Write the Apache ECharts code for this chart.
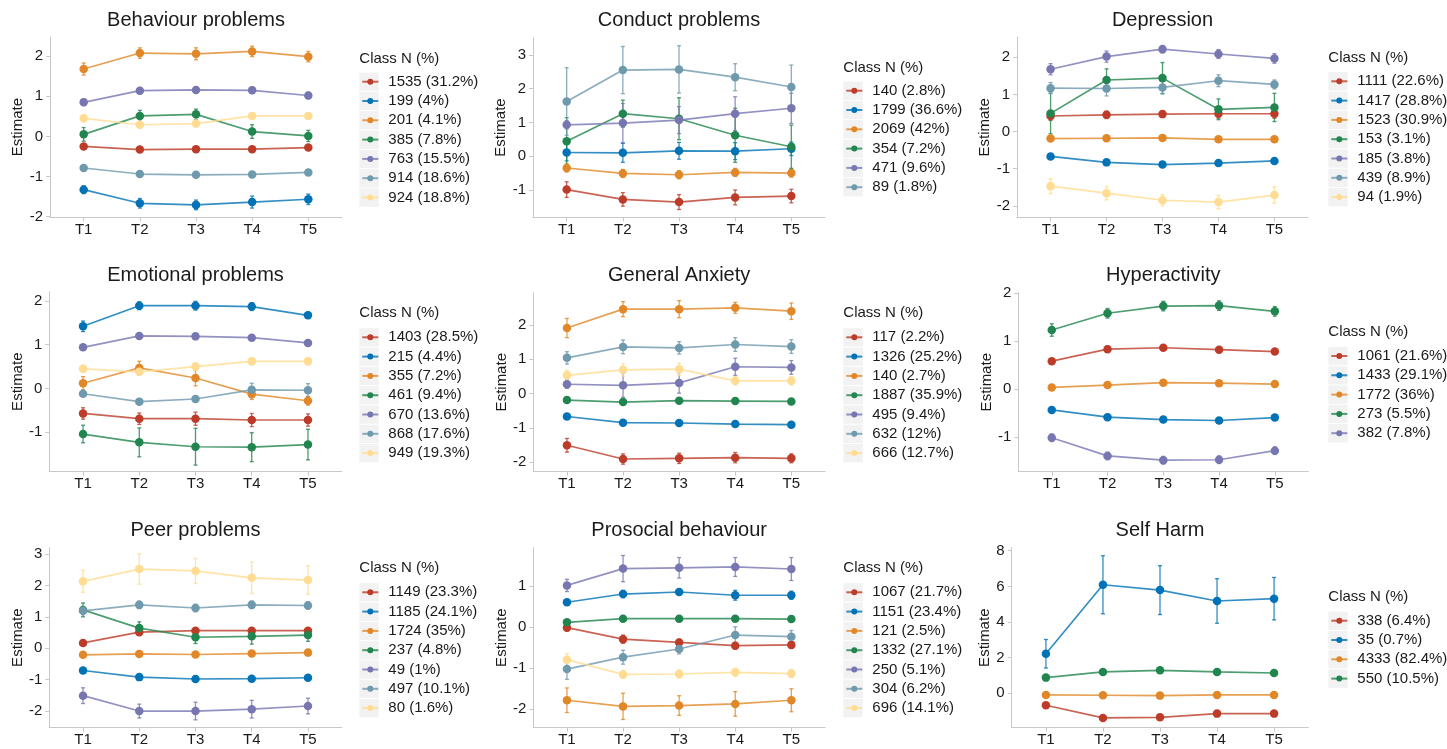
<!DOCTYPE html>
<html>
<head>
<meta charset="utf-8">
<script src="https://cdn.jsdelivr.net/npm/echarts@6/dist/echarts.min.js"></script>
<style>
html,body{margin:0;padding:0;background:#ffffff;}
#chart{width:1447px;height:749px;}
</style>
</head>
<body>
<div id="chart"></div>
<script>
// ---------------- DATA ----------------
const timeLabels = ['T1', 'T2', 'T3', 'T4', 'T5'];
const timePos = [1, 2, 3, 4, 5];
const palette = ['#BC3C29', '#0072B5', '#E18727', '#20854E', '#7876B1', '#6F99AD', '#FFDC91'];
const legendTitle = 'Class N (%)';
const yName = 'Estimate';

// Behaviour problems
const behaviourTitle = 'Behaviour problems';
const behaviourClasses = ['1535 (31.2%)', '199 (4%)', '201 (4.1%)', '385 (7.8%)', '763 (15.5%)', '914 (18.6%)', '924 (18.8%)'];
const behaviourEst = [
  [-0.25, -0.33, -0.32, -0.32, -0.28],
  [-1.33, -1.67, -1.71, -1.64, -1.57],
  [1.68, 2.08, 2.06, 2.12, 1.99],
  [0.05, 0.51, 0.55, 0.12, 0.01],
  [0.85, 1.14, 1.16, 1.15, 1.02],
  [-0.79, -0.94, -0.96, -0.95, -0.90],
  [0.45, 0.29, 0.32, 0.51, 0.51]
];
const behaviourErr = [
  [0.04, 0.04, 0.04, 0.04, 0.04],
  [0.10, 0.12, 0.12, 0.15, 0.13],
  [0.15, 0.13, 0.15, 0.13, 0.13],
  [0.17, 0.14, 0.13, 0.17, 0.14],
  [0.08, 0.08, 0.08, 0.08, 0.08],
  [0.04, 0.04, 0.04, 0.04, 0.04],
  [0.08, 0.08, 0.08, 0.08, 0.08]
];
const behaviourTicks = [-2, -1, 0, 1, 2];
const behaviourRange = [-2.02, 2.48];

// Conduct problems
const conductTitle = 'Conduct problems';
const conductClasses = ['140 (2.8%)', '1799 (36.6%)', '2069 (42%)', '354 (7.2%)', '471 (9.6%)', '89 (1.8%)'];
const conductEst = [
  [-0.99, -1.28, -1.36, -1.22, -1.18],
  [0.11, 0.10, 0.16, 0.15, 0.22],
  [-0.35, -0.51, -0.55, -0.48, -0.50],
  [0.44, 1.26, 1.11, 0.62, 0.28],
  [0.93, 0.98, 1.07, 1.26, 1.42],
  [1.62, 2.55, 2.57, 2.34, 2.05]
];
const conductErr = [
  [0.23, 0.20, 0.22, 0.22, 0.20],
  [0.25, 0.28, 0.25, 0.25, 0.20],
  [0.12, 0.12, 0.12, 0.12, 0.12],
  [0.70, 0.40, 0.62, 0.80, 0.64],
  [0.12, 0.58, 0.40, 0.50, 0.45],
  [1.00, 0.70, 0.70, 0.40, 0.65]
];
const conductTicks = [-1, 0, 1, 2, 3];
const conductRange = [-1.81, 3.51];

// Depression
const depressionTitle = 'Depression';
const depressionClasses = ['1111 (22.6%)', '1417 (28.8%)', '1523 (30.9%)', '153 (3.1%)', '185 (3.8%)', '439 (8.9%)', '94 (1.9%)'];
const depressionEst = [
  [0.42, 0.45, 0.47, 0.48, 0.48],
  [-0.67, -0.83, -0.89, -0.85, -0.79],
  [-0.19, -0.18, -0.17, -0.21, -0.21],
  [0.49, 1.39, 1.44, 0.60, 0.65],
  [1.68, 2.02, 2.22, 2.09, 1.97],
  [1.17, 1.16, 1.19, 1.37, 1.27],
  [-1.47, -1.66, -1.85, -1.90, -1.71]
];
const depressionErr = [
  [0.12, 0.10, 0.08, 0.12, 0.12],
  [0.04, 0.04, 0.04, 0.04, 0.04],
  [0.04, 0.04, 0.04, 0.04, 0.04],
  [0.55, 0.30, 0.42, 0.28, 0.38],
  [0.15, 0.15, 0.10, 0.12, 0.13],
  [0.15, 0.20, 0.17, 0.16, 0.12],
  [0.20, 0.18, 0.15, 0.18, 0.22]
];
const depressionTicks = [-2, -1, 0, 1, 2];
const depressionRange = [-2.31, 2.54];

// Emotional problems
const emotionalTitle = 'Emotional problems';
const emotionalClasses = ['1403 (28.5%)', '215 (4.4%)', '355 (7.2%)', '461 (9.4%)', '670 (13.6%)', '868 (17.6%)', '949 (19.3%)'];
const emotionalEst = [
  [-0.57, -0.69, -0.69, -0.72, -0.72],
  [1.42, 1.89, 1.89, 1.87, 1.67],
  [0.12, 0.47, 0.24, -0.13, -0.28],
  [-1.04, -1.23, -1.33, -1.34, -1.28],
  [0.94, 1.20, 1.19, 1.16, 1.04],
  [-0.12, -0.30, -0.24, -0.03, -0.04],
  [0.45, 0.38, 0.50, 0.62, 0.62]
];
const emotionalErr = [
  [0.13, 0.13, 0.15, 0.15, 0.14],
  [0.12, 0.09, 0.10, 0.09, 0.07],
  [0.15, 0.15, 0.18, 0.12, 0.10],
  [0.20, 0.33, 0.42, 0.33, 0.35],
  [0.06, 0.06, 0.06, 0.06, 0.06],
  [0.06, 0.06, 0.06, 0.15, 0.15],
  [0.08, 0.08, 0.08, 0.08, 0.08]
];
const emotionalTicks = [-1, 0, 1, 2];
const emotionalRange = [-1.90, 2.21];

// General Anxiety
const anxietyTitle = 'General Anxiety';
const anxietyClasses = ['117 (2.2%)', '1326 (25.2%)', '140 (2.7%)', '1887 (35.9%)', '495 (9.4%)', '632 (12%)', '666 (12.7%)'];
const anxietyEst = [
  [-1.51, -1.91, -1.89, -1.87, -1.89],
  [-0.67, -0.85, -0.86, -0.89, -0.91],
  [1.91, 2.46, 2.46, 2.50, 2.40],
  [-0.19, -0.25, -0.21, -0.22, -0.23],
  [0.27, 0.24, 0.31, 0.78, 0.76],
  [1.04, 1.36, 1.33, 1.43, 1.37],
  [0.53, 0.69, 0.71, 0.37, 0.37]
];
const anxietyErr = [
  [0.20, 0.15, 0.15, 0.15, 0.13],
  [0.03, 0.03, 0.03, 0.03, 0.03],
  [0.28, 0.22, 0.25, 0.16, 0.24],
  [0.03, 0.03, 0.03, 0.03, 0.03],
  [0.12, 0.35, 0.30, 0.25, 0.20],
  [0.18, 0.20, 0.18, 0.20, 0.20],
  [0.15, 0.18, 0.18, 0.12, 0.12]
];
const anxietyTicks = [-2, -1, 0, 1, 2];
const anxietyRange = [-2.28, 2.94];

// Hyperactivity
const hyperTitle = 'Hyperactivity';
const hyperClasses = ['1061 (21.6%)', '1433 (29.1%)', '1772 (36%)', '273 (5.5%)', '382 (7.8%)'];
const hyperEst = [
  [0.58, 0.83, 0.86, 0.82, 0.78],
  [-0.44, -0.59, -0.64, -0.66, -0.60],
  [0.03, 0.08, 0.13, 0.12, 0.10],
  [1.23, 1.58, 1.73, 1.74, 1.62],
  [-1.02, -1.40, -1.49, -1.48, -1.29]
];
const hyperErr = [
  [0.05, 0.06, 0.05, 0.05, 0.05],
  [0.03, 0.03, 0.03, 0.03, 0.03],
  [0.03, 0.03, 0.03, 0.03, 0.03],
  [0.13, 0.10, 0.10, 0.10, 0.10],
  [0.08, 0.08, 0.08, 0.08, 0.08]
];
const hyperTicks = [-1, 0, 1, 2];
const hyperRange = [-1.73, 2.01];

// Peer problems
const peerTitle = 'Peer problems';
const peerClasses = ['1149 (23.3%)', '1185 (24.1%)', '1724 (35%)', '237 (4.8%)', '49 (1%)', '497 (10.1%)', '80 (1.6%)'];
const peerEst = [
  [0.17, 0.51, 0.56, 0.56, 0.56],
  [-0.71, -0.92, -0.98, -0.97, -0.94],
  [-0.21, -0.18, -0.20, -0.17, -0.14],
  [1.22, 0.64, 0.35, 0.38, 0.42],
  [-1.51, -2.00, -2.00, -1.94, -1.84],
  [1.19, 1.38, 1.28, 1.38, 1.36],
  [2.13, 2.52, 2.46, 2.24, 2.17]
];
const peerErr = [
  [0.06, 0.06, 0.06, 0.06, 0.06],
  [0.03, 0.03, 0.03, 0.03, 0.03],
  [0.03, 0.03, 0.03, 0.03, 0.03],
  [0.22, 0.20, 0.20, 0.25, 0.20],
  [0.25, 0.22, 0.28, 0.28, 0.25],
  [0.12, 0.12, 0.12, 0.12, 0.12],
  [0.35, 0.48, 0.40, 0.50, 0.45]
];
const peerTicks = [-2, -1, 0, 1, 2, 3];
const peerRange = [-2.53, 3.20];

// Prosocial behaviour
const prosocialTitle = 'Prosocial behaviour';
const prosocialClasses = ['1067 (21.7%)', '1151 (23.4%)', '121 (2.5%)', '1332 (27.1%)', '250 (5.1%)', '304 (6.2%)', '696 (14.1%)'];
const prosocialEst = [
  [-0.02, -0.30, -0.38, -0.46, -0.44],
  [0.60, 0.80, 0.85, 0.77, 0.77],
  [-1.79, -1.94, -1.92, -1.88, -1.79],
  [0.11, 0.20, 0.20, 0.20, 0.19],
  [1.01, 1.42, 1.44, 1.46, 1.41],
  [-1.03, -0.74, -0.54, -0.20, -0.24],
  [-0.80, -1.16, -1.15, -1.11, -1.14]
];
const prosocialErr = [
  [0.08, 0.10, 0.08, 0.08, 0.08],
  [0.07, 0.09, 0.08, 0.12, 0.10],
  [0.30, 0.32, 0.24, 0.30, 0.28],
  [0.04, 0.04, 0.04, 0.04, 0.04],
  [0.15, 0.32, 0.25, 0.23, 0.28],
  [0.25, 0.17, 0.12, 0.20, 0.15],
  [0.15, 0.10, 0.10, 0.10, 0.10]
];
const prosocialTicks = [-2, -1, 0, 1];
const prosocialRange = [-2.46, 1.93];

// Self Harm
const selfHarmTitle = 'Self Harm';
const selfHarmClasses = ['338 (6.4%)', '35 (0.7%)', '4333 (82.4%)', '550 (10.5%)'];
const selfHarmEst = [
  [-0.67, -1.38, -1.35, -1.14, -1.14],
  [2.22, 6.09, 5.79, 5.18, 5.31],
  [-0.09, -0.11, -0.13, -0.09, -0.09],
  [0.88, 1.20, 1.29, 1.20, 1.14]
];
const selfHarmErr = [
  [0.06, 0.06, 0.06, 0.06, 0.06],
  [0.80, 1.63, 1.37, 1.25, 1.19],
  [0.03, 0.03, 0.03, 0.03, 0.03],
  [0.06, 0.06, 0.06, 0.06, 0.06]
];
const selfHarmTicks = [0, 2, 4, 6, 8];
const selfHarmRange = [-1.93, 8.17];

// ---------------- ASSEMBLY ----------------
const panels = [
  {title: behaviourTitle, classes: behaviourClasses, est: behaviourEst, err: behaviourErr, ticks: behaviourTicks, range: behaviourRange},
  {title: conductTitle, classes: conductClasses, est: conductEst, err: conductErr, ticks: conductTicks, range: conductRange},
  {title: depressionTitle, classes: depressionClasses, est: depressionEst, err: depressionErr, ticks: depressionTicks, range: depressionRange},
  {title: emotionalTitle, classes: emotionalClasses, est: emotionalEst, err: emotionalErr, ticks: emotionalTicks, range: emotionalRange},
  {title: anxietyTitle, classes: anxietyClasses, est: anxietyEst, err: anxietyErr, ticks: anxietyTicks, range: anxietyRange},
  {title: hyperTitle, classes: hyperClasses, est: hyperEst, err: hyperErr, ticks: hyperTicks, range: hyperRange},
  {title: peerTitle, classes: peerClasses, est: peerEst, err: peerErr, ticks: peerTicks, range: peerRange},
  {title: prosocialTitle, classes: prosocialClasses, est: prosocialEst, err: prosocialErr, ticks: prosocialTicks, range: prosocialRange},
  {title: selfHarmTitle, classes: selfHarmClasses, est: selfHarmEst, err: selfHarmErr, ticks: selfHarmTicks, range: selfHarmRange}
];

// layout (pixels)
const layout = [
  {left: 50, right: 342, top: 37, bottom: 217.3, titleY: 20.7, nameGap: 23.5, legX: 359.3, legTitleY: 59.3, legFirstY: 81.7},
  {left: 533, right: 825, top: 37.7, bottom: 217.3, titleY: 20.7, nameGap: 20.5, legX: 843.3, legTitleY: 68.3, legFirstY: 90.7},
  {left: 1017, right: 1308, top: 37.3, bottom: 217.3, titleY: 20.7, nameGap: 22.5, legX: 1328.3, legTitleY: 58.3, legFirstY: 81.3},
  {left: 49.3, right: 341.7, top: 291.7, bottom: 471.7, titleY: 275.5, nameGap: 23, legX: 359.3, legTitleY: 313.3, legFirstY: 337.3},
  {left: 533.3, right: 825, top: 292.7, bottom: 471.7, titleY: 275.5, nameGap: 22, legX: 843.3, legTitleY: 313.3, legFirstY: 337.3},
  {left: 1018.3, right: 1308.3, top: 292.7, bottom: 471.7, titleY: 275.5, nameGap: 24, legX: 1328.3, legTitleY: 331.7, legFirstY: 356},
  {left: 49.3, right: 341.7, top: 547.7, bottom: 727.7, titleY: 530.7, nameGap: 23, legX: 359.3, legTitleY: 568.3, legFirstY: 592.3},
  {left: 533.3, right: 825, top: 547.7, bottom: 727.7, titleY: 530.7, nameGap: 22, legX: 843.3, legTitleY: 568.3, legFirstY: 592.3},
  {left: 1011.7, right: 1308.3, top: 547.7, bottom: 727.7, titleY: 530.7, nameGap: 17.5, legX: 1328.3, legTitleY: 596.7, legFirstY: 620.7}
];

const FONT = '"Liberation Sans", Arial, Helvetica, sans-serif';
const AXIS_GREY = '#C8C8C8';
const TEXT = '#1a1a1a';
const ROW = 19.3;

function makeErr(color) {
  return function (params, api) {
    const x = api.value(0);
    const a = api.coord([x, api.value(1)]);
    const b = api.coord([x, api.value(2)]);
    const cap = 2;
    const style = {stroke: color, lineWidth: 1.3, opacity: 0.8};
    return {
      type: 'group',
      children: [
        {type: 'line', shape: {x1: a[0], y1: a[1], x2: b[0], y2: b[1]}, style: style},
        {type: 'line', shape: {x1: a[0] - cap, y1: a[1], x2: a[0] + cap, y2: a[1]}, style: style},
        {type: 'line', shape: {x1: b[0] - cap, y1: b[1], x2: b[0] + cap, y2: b[1]}, style: style}
      ]
    };
  };
}

const grids = [], xAxes = [], yAxes = [], series = [], titles = [], legends = [], graphics = [];

panels.forEach(function (p, k) {
  const L = layout[k];
  grids.push({left: L.left, top: L.top, width: L.right - L.left, height: L.bottom - L.top});
  xAxes.push({
    gridIndex: k, type: 'value', min: 0.4, max: 5.6,
    axisLine: {show: true, onZero: false, lineStyle: {color: AXIS_GREY, width: 1}},
    axisTick: {show: true, customValues: timePos, length: 4, lineStyle: {color: AXIS_GREY}},
    axisLabel: {customValues: timePos, formatter: function (v) { return timeLabels[Math.round(v) - 1]; },
      margin: 5, fontSize: 15, color: TEXT, fontFamily: FONT},
    splitLine: {show: false}
  });
  yAxes.push({
    gridIndex: k, type: 'value', min: p.range[0], max: p.range[1],
    name: yName, nameLocation: 'middle', nameGap: L.nameGap,
    nameTextStyle: {fontSize: 15, color: TEXT, fontFamily: FONT},
    axisLine: {show: true, onZero: false, lineStyle: {color: AXIS_GREY, width: 1}},
    axisTick: {show: true, customValues: p.ticks, length: 4, lineStyle: {color: AXIS_GREY}},
    axisLabel: {customValues: p.ticks, margin: 7, fontSize: 15, color: TEXT, fontFamily: FONT},
    splitLine: {show: false}
  });
  p.classes.forEach(function (name, i) {
    const color = palette[i];
    series.push({
      type: 'line', name: name, xAxisIndex: k, yAxisIndex: k,
      data: p.est[i].map(function (v, j) { return [timePos[j], v]; }),
      symbol: 'circle', symbolSize: 8.5, showSymbol: true,
      itemStyle: {color: color},
      lineStyle: {color: color, width: 1.7, opacity: 0.8},
      z: 3, animation: false, emphasis: {disabled: true}
    });
  });
  p.classes.forEach(function (name, i) {
    const color = palette[i];
    series.push({
      type: 'custom', name: name, xAxisIndex: k, yAxisIndex: k,
      data: p.est[i].map(function (v, j) { return [timePos[j], v - p.err[i][j], v + p.err[i][j]]; }),
      encode: {x: 0, y: [1, 2]},
      renderItem: makeErr(color), z: 2, animation: false, silent: true
    });
  });
  titles.push({
    text: p.title, left: (L.left + L.right) / 2, top: L.titleY - 10, textAlign: 'center', padding: 0,
    textStyle: {fontSize: 20, fontWeight: 'normal', color: TEXT, fontFamily: FONT}
  });
  titles.push({
    text: legendTitle, left: L.legX, top: L.legTitleY - 7.5, padding: 0,
    textStyle: {fontSize: 15, fontWeight: 'normal', color: TEXT, fontFamily: FONT}
  });
  legends.push({
    data: p.classes, orient: 'vertical', left: L.legX + 2, top: L.legFirstY - ROW / 2,
    itemWidth: 16, itemHeight: 7.5, itemGap: 0, padding: 0,
    textStyle: {fontSize: 15, color: TEXT, fontFamily: FONT, lineHeight: ROW, padding: [0, 0, 0, 5]}
  });
  p.classes.forEach(function (_, i) {
    graphics.push({
      type: 'rect', silent: true, z: -1,
      shape: {x: L.legX, y: L.legFirstY + i * ROW - 9.1, width: 19.4, height: 18.3},
      style: {fill: '#F2F2F2'}
    });
  });
});

const chart = echarts.init(document.getElementById('chart'), null, {renderer: 'canvas'});
chart.setOption({
  backgroundColor: '#ffffff',
  animation: false,
  title: titles,
  legend: legends,
  grid: grids,
  xAxis: xAxes,
  yAxis: yAxes,
  series: series,
  graphic: graphics
});
</script>
</body>
</html>
